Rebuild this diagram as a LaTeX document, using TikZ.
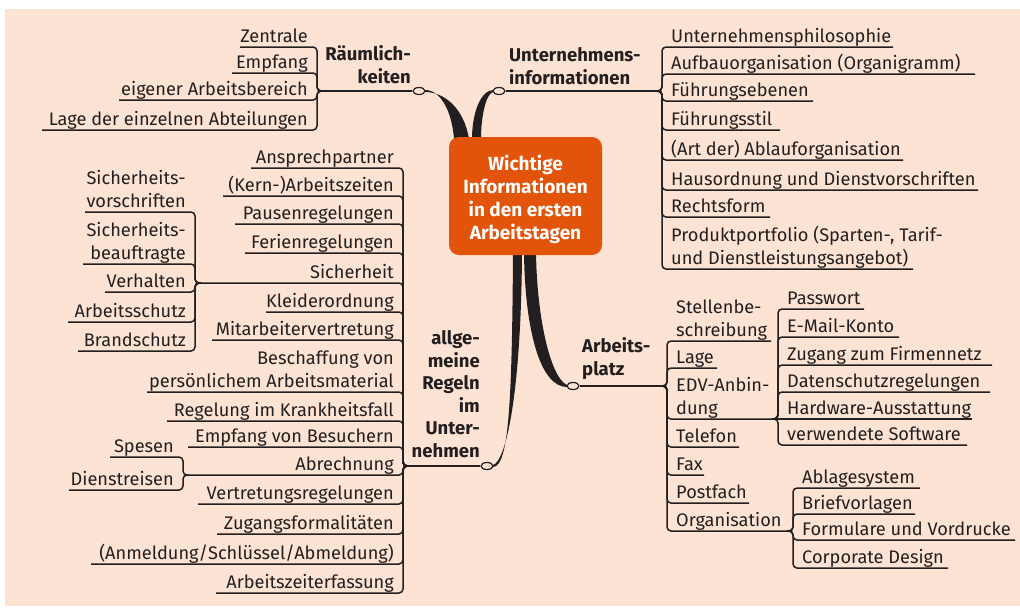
\documentclass[tikz,border=0pt]{standalone}
\usepackage{fontspec}
\setmainfont{Fira Sans}
\usetikzlibrary{shapes.geometric}
\definecolor{bg}{HTML}{FDE3D3}
\definecolor{boxc}{HTML}{E1540A}
\definecolor{txt}{HTML}{231F20}
\newcommand\stackR[1]{\begin{tabular}[b]{@{}r@{}}#1\end{tabular}}
\newcommand\stackL[1]{\begin{tabular}[b]{@{}l@{}}#1\end{tabular}}
% leaf to the right: name, junction, bracket x, underline y, end x, text
\newcommand\leafR[6]{%
  \node[leaf,anchor=base west] (#1) at (#3+9,#4-5) {#6};
  \coordinate (#1-e) at (#5,#4);
  \draw[conn] (#2) -- ++(6,0) |- (#1-e);
}
\newcommand\leafL[6]{%
  \node[leaf,anchor=base east] (#1) at (#3-9,#4-5) {#6};
  \coordinate (#1-e) at (#5,#4);
  \draw[conn] (#2) -- ++(-6,0) |- (#1-e);
}
\begin{document}
\begin{tikzpicture}[x=1pt,y=-1pt,
  leaf/.style={font=\fontsize{18.2}{22.5}\selectfont, text=txt, inner sep=0pt},
  blabel/.style={font=\bfseries\fontsize{18.5}{22.5}\selectfont, text=txt, inner sep=0pt},
  conn/.style={draw=txt, line width=1.5pt, rounded corners=4pt},
  dot/.style={ellipse, draw=txt, fill=bg, line width=1.2pt, minimum width=12pt, minimum height=7pt, inner sep=0pt},
  centerbox/.style={fill=boxc, rounded corners=10pt, minimum width=153pt, minimum height=118pt, text=white, font=\bfseries\fontsize{19}{23}\selectfont, align=center, inner sep=0pt}]
\fill[white] (0,0) rectangle (1020,608);
\useasboundingbox (0,0) rectangle (1020,608);
\fill[bg] (5,9) rectangle (1020,606);
% thick tapered branches
\fill[txt] (425,90) .. controls (441,90) and (452,112) .. (454,139) -- (469,139) .. controls (464,108) and (444,92) .. (425,92) -- cycle;
\fill[txt] (493,90) .. controls (480,91) and (472,114) .. (472,139) -- (481,139) .. controls (481,116) and (486,94) .. (493,92) -- cycle;
\fill[txt] (513,253) .. controls (512,400) and (509,467) .. (493,467) -- (493,465) .. controls (505,462) and (521,400) .. (522,253) -- cycle;
\fill[txt] (524,253) .. controls (525,330) and (540,387) .. (567,387) -- (567,385) .. controls (551,378) and (537,320) .. (536,253) -- cycle;
\node[centerbox] (c) at (525.5,196) {};
\node[text=white, font=\bfseries\fontsize{19}{23}\selectfont, align=center, inner sep=0pt] (ct) at (525.5,199) {Wichtige\\Informationen\\in den ersten\\Arbeitstagen};
% junctions
\coordinate (jR) at (323,91);
\coordinate (jU) at (656,91);
\coordinate (jA) at (661,386);
\coordinate (jG) at (409,466);
\coordinate (jS) at (201,283);
\coordinate (jB) at (189,475);
\coordinate (jE) at (772,419);
\coordinate (jO) at (787,531);
% ellipses
\node[dot] (eR) at (419,91) {};
\node[dot] (eU) at (499,91) {};
\node[dot] (eA) at (573,386) {};
\node[dot] (eG) at (487,466) {};
\draw[conn] (eR.west) -- (jR);
\draw[conn] (eU.east) -- (jU);
\draw[conn] (eA.east) -- (jA);
\draw[conn] (eG.west) -- (jG);
% branch labels
\node[blabel, anchor=base east] (lR) at (411,83) {\stackR{Räumlich-\\keiten}};
\node[blabel, anchor=base west] (lU) at (509,84) {\stackL{Unternehmens-\\informationen}};
\node[blabel, anchor=base west] (lA) at (582,375) {\stackL{Arbeits-\\platz}};
\node[blabel, anchor=base east] (lG) at (480,457) {\stackR{allge-\\meine\\Regeln\\im\\Unter-\\nehmen}};
% Raeumlichkeiten
\leafL{r1}{jR}{317}{47}{240}{Zentrale}
\leafL{r2}{jR}{317}{73}{232}{Empfang}
\leafL{r3}{jR}{317}{100}{119}{eigener Arbeitsbereich}
\leafL{r4}{jR}{317}{130}{42}{Lage der einzelnen Abteilungen}
% Unternehmensinformationen
\leafR{u1}{jU}{662}{47}{893}{Unternehmensphilosophie}
\leafR{u2}{jU}{662}{74}{975}{Aufbauorganisation (Organigramm)}
\leafR{u3}{jU}{662}{101}{813}{Führungsebenen}
\leafR{u4}{jU}{662}{130}{780}{Führungsstil}
\leafR{u5}{jU}{662}{160}{903}{(Art der) Ablauforganisation}
\leafR{u6}{jU}{662}{190}{978}{Hausordnung und Dienstvorschriften}
\leafR{u7}{jU}{662}{217}{770}{Rechtsform}
\leafR{u8}{jU}{662}{269}{913}{\stackL{Produktportfolio (Sparten-, Tarif-\\und Dienstleistungsangebot)}}
% Arbeitsplatz
\leafR{a1}{jA}{667}{341}{771}{\stackL{Stellenbe-\\schreibung}}
\leafR{a2}{jA}{667}{368}{717}{Lage}
\leafR{a3}{jA}{667}{419}{772}{\stackL{EDV-Anbin-\\dung}}
\leafR{a4}{jA}{667}{447}{739}{Telefon}
\leafR{a5}{jA}{667}{475}{704}{Fax}
\leafR{a6}{jA}{667}{503}{749}{Postfach}
\leafR{a7}{jA}{667}{531}{787}{Organisation}
% EDV
\leafR{e1}{jE}{778}{309}{864}{Passwort}
\leafR{e2}{jE}{778}{337}{899}{E-Mail-Konto}
\leafR{e3}{jE}{778}{365}{992}{Zugang zum Firmennetz}
\leafR{e4}{jE}{778}{392}{990}{Datenschutzregelungen}
\node[leaf,anchor=base west] (e5) at (787,414) {Hardware-Ausstattung};
\coordinate (e5-e) at (972,419);
\draw[conn] (jE) -- (e5-e);
\leafR{e6}{jE}{778}{445}{967}{verwendete Software}
% Organisation
\leafR{o1}{jO}{793}{488}{920}{Ablagesystem}
\leafR{o2}{jO}{793}{514}{915}{Briefvorlagen}
\leafR{o3}{jO}{793}{540}{1015}{Formulare und Vordrucke}
\leafR{o4}{jO}{793}{568}{948}{Corporate Design}
% allgemeine Regeln
\leafL{g1}{jG}{403}{168}{251}{Ansprechpartner}
\leafL{g2}{jG}{403}{196}{223}{(Kern-)Arbeitszeiten}
\leafL{g3}{jG}{403}{224}{235}{Pausenregelungen}
\leafL{g4}{jG}{403}{253}{245}{Ferienregelungen}
\leafL{g5}{jG}{403}{283}{201}{Sicherheit}
\leafL{g6}{jG}{403}{312}{266}{Kleiderordnung}
\leafL{g7}{jG}{403}{340}{212}{Mitarbeitervertretung}
\leafL{g8}{jG}{403}{392}{147}{\stackR{Beschaffung von\\persönlichem Arbeitsmaterial}}
\leafL{g9}{jG}{403}{421}{167}{Regelung im Krankheitsfall}
\leafL{g10}{jG}{403}{447}{188}{Empfang von Besuchern}
\leafL{g11}{jG}{403}{475}{189}{Abrechnung}
\leafL{g12}{jG}{403}{504}{198}{Vertretungsregelungen}
\leafL{g13}{jG}{403}{534}{217}{Zugangsformalitäten}
\leafL{g14}{jG}{403}{564}{91}{(Anmeldung/Schlüssel/Abmeldung)}
\leafL{g15}{jG}{403}{593}{216}{Arbeitszeiterfassung}
% Sicherheit
\leafL{s1}{jS}{195}{212}{85}{\stackR{Sicherheits-\\vorschriften}}
\leafL{s2}{jS}{195}{264}{83}{\stackR{Sicherheits-\\beauftragte}}
\leafL{s3}{jS}{195}{292}{105}{Verhalten}
\leafL{s4}{jS}{195}{322}{68}{Arbeitsschutz}
\leafL{s5}{jS}{195}{351}{78}{Brandschutz}
% Abrechnung
\leafL{b1}{jB}{183}{457}{110}{Spesen}
\leafL{b2}{jB}{183}{490}{69}{Dienstreisen}
\end{tikzpicture}
\end{document}
